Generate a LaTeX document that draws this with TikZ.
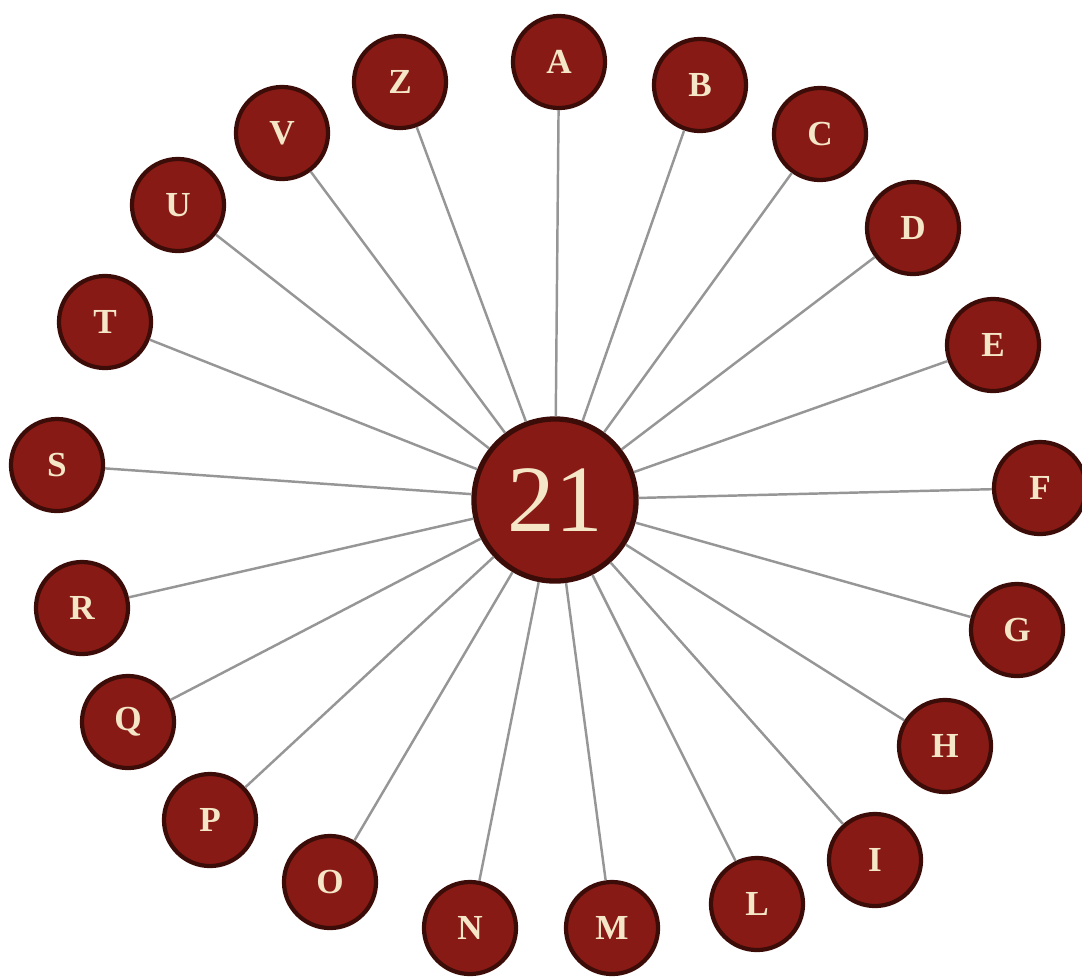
\documentclass[tikz,border=0pt]{standalone}
\usepackage{fontspec}
\setmainfont{Liberation Serif}
\definecolor{nodered}{RGB}{135,26,20}
\definecolor{nodeedge}{RGB}{60,12,8}
\definecolor{nodetext}{RGB}{245,230,200}
\definecolor{spoke}{RGB}{150,150,150}
\tikzset{
  leaf/.style={circle,fill=nodered,draw=nodeedge,line width=1.2pt,minimum size=0.92cm,inner sep=0pt,text=nodetext,font=\bfseries\fontsize{10}{10}\selectfont},
  hub/.style={circle,fill=nodered,draw=nodeedge,line width=1.5pt,minimum size=1.62cm,inner sep=0pt,text=nodetext,font=\fontsize{27}{27}\selectfont}
}
\begin{document}
\begin{tikzpicture}[x=0.01cm,y=-0.01cm]
    \useasboundingbox (0,0) rectangle (1082,978);
    \node[hub] (hub) at (555,500) {21};
    \node[leaf] (A) at (559,62) {A};
    \node[leaf] (B) at (700,85) {B};
    \node[leaf] (C) at (820,134) {C};
    \node[leaf] (D) at (913,228) {D};
    \node[leaf] (E) at (993,345) {E};
    \node[leaf] (F) at (1040,488) {F};
    \node[leaf] (G) at (1017,630) {G};
    \node[leaf] (H) at (945,746) {H};
    \node[leaf] (I) at (875,860) {I};
    \node[leaf] (L) at (757,904) {L};
    \node[leaf] (M) at (612,928) {M};
    \node[leaf] (N) at (470,928) {N};
    \node[leaf] (O) at (330,882) {O};
    \node[leaf] (P) at (210,820) {P};
    \node[leaf] (Q) at (128,722) {Q};
    \node[leaf] (R) at (82,608) {R};
    \node[leaf] (S) at (57,465) {S};
    \node[leaf] (T) at (105,322) {T};
    \node[leaf] (U) at (178,205) {U};
    \node[leaf] (V) at (282,133) {V};
    \node[leaf] (Z) at (400,82) {Z};
    % spokes
    \draw[spoke,line width=0.7pt] (hub)--(A) (hub)--(B) (hub)--(C) (hub)--(D) (hub)--(E)
        (hub)--(F) (hub)--(G) (hub)--(H) (hub)--(I) (hub)--(L) (hub)--(M)
        (hub)--(N) (hub)--(O) (hub)--(P) (hub)--(Q) (hub)--(R) (hub)--(S)
        (hub)--(T) (hub)--(U) (hub)--(V) (hub)--(Z);
\end{tikzpicture}
\end{document}
